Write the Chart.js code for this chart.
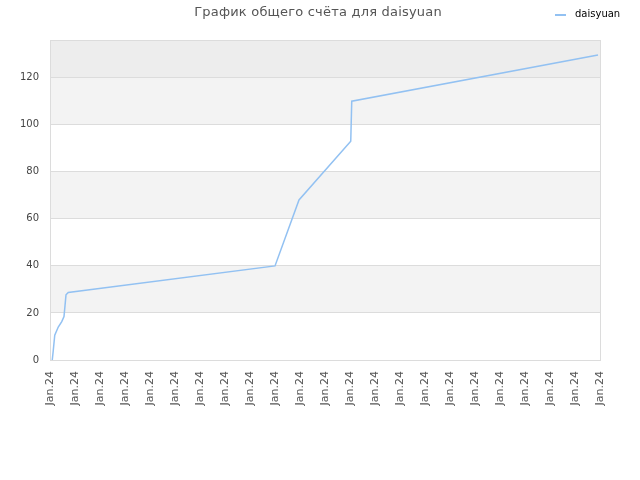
<!DOCTYPE html>
<html>
<head>
<meta charset="utf-8">
<script src="https://cdn.jsdelivr.net/npm/chart.js@4"></script>
<style>
    body { margin: 0; background: #fff; }
    #wrap { width: 640px; height: 480px; }
</style>
</head>
<body>
<div id="wrap"><canvas id="chart"></canvas></div>
<script>
var titleText = 'График общего счёта для daisyuan';
var seriesName = 'daisyuan';
// x positions on the date axis (one unit = one tick) and total score
var pointX = [0.09, 0.13, 0.19, 0.33, 0.47, 0.56, 0.64, 0.73, 9.0, 9.96, 12.03, 12.07, 21.92];
var pointY = [0, 4, 10.5, 14, 16.3, 18.5, 27.7, 28.7, 40, 68, 93, 110, 129.6];
var tickLabels = ['Jan.24', 'Jan.24', 'Jan.24', 'Jan.24', 'Jan.24', 'Jan.24', 'Jan.24', 'Jan.24',
    'Jan.24', 'Jan.24', 'Jan.24', 'Jan.24', 'Jan.24', 'Jan.24', 'Jan.24', 'Jan.24', 'Jan.24',
    'Jan.24', 'Jan.24', 'Jan.24', 'Jan.24', 'Jan.24', 'Jan.24'];

var lineColor = '#92c1f2';

var points = pointX.map(function (x, i) {
    return { x: x, y: pointY[i] };
});

// alternating horizontal bands + title + legend
var decor = {
    id: 'decor',
    beforeDraw: function (chart) {
        var ctx = chart.ctx;
        var area = chart.chartArea;
        var y = chart.scales.y;
        ctx.save();
        for (var v = 0; v < 136; v += 20) {
            var top = y.getPixelForValue(Math.min(v + 20, y.max));
            var bottom = y.getPixelForValue(v);
            var band = (v / 20) % 2;
            if (v >= 120) ctx.fillStyle = '#ededed';
            else ctx.fillStyle = band ? '#f3f3f3' : '#ffffff';
            ctx.fillRect(area.left, top, area.right - area.left, bottom - top);
        }
        ctx.restore();
    },
    afterDraw: function (chart) {
        var ctx = chart.ctx;
        var area = chart.chartArea;
        ctx.save();
        ctx.strokeStyle = '#dcdcdc';
        ctx.lineWidth = 1;
        ctx.strokeRect(area.left + 0.5, area.top + 0.5, area.right - area.left, area.bottom - area.top);

        ctx.fillStyle = '#555';
        ctx.font = '13px "DejaVu Sans"';
        ctx.letterSpacing = '0.2px';
        ctx.textAlign = 'center';
        ctx.textBaseline = 'middle';
        ctx.fillText(titleText, 318, 13);
        ctx.letterSpacing = '0px';

        ctx.strokeStyle = lineColor;
        ctx.lineWidth = 2;
        ctx.beginPath();
        ctx.moveTo(555, 15);
        ctx.lineTo(566, 15);
        ctx.stroke();
        ctx.fillStyle = '#000';
        ctx.font = '10px "DejaVu Sans"';
        ctx.textAlign = 'left';
        ctx.fillText(seriesName, 575, 14);
        ctx.restore();
    }
};

new Chart(document.getElementById('chart'), {
    type: 'line',
    data: {
        datasets: [{
            label: seriesName,
            data: points,
            borderColor: lineColor,
            borderWidth: 1.5,
            pointRadius: 0,
            tension: 0,
            fill: false
        }]
    },
    plugins: [decor],
    options: {
        responsive: true,
        maintainAspectRatio: false,
        animation: false,
        layout: { padding: { top: 40, right: 40, left: 0, bottom: 0 } },
        plugins: {
            legend: { display: false },
            title: { display: false },
            tooltip: { enabled: false }
        },
        scales: {
            x: {
                type: 'linear',
                min: 0,
                max: tickLabels.length - 1,
                afterFit: function (scale) { scale.height = 120; },
                afterBuildTicks: function (scale) {
                    scale.ticks = tickLabels.map(function (t, i) { return { value: i }; });
                },
                grid: { display: false, drawTicks: true, tickLength: 4, color: '#dcdcdc' },
                border: { display: false },
                ticks: {
                    autoSkip: false,
                    minRotation: 90,
                    maxRotation: 90,
                    color: '#555',
                    font: { family: 'DejaVu Sans', size: 11 },
                    padding: 7,
                    callback: function (value) { return tickLabels[value]; }
                }
            },
            y: {
                min: 0,
                max: 136,
                afterFit: function (scale) { scale.width = 50; },
                afterBuildTicks: function (scale) {
                    var t = [];
                    for (var v = 0; v <= 120; v += 20) t.push({ value: v });
                    scale.ticks = t;
                },
                grid: { color: '#dcdcdc', drawTicks: false },
                border: { display: false },
                ticks: {
                    color: '#444',
                    font: { family: 'DejaVu Sans', size: 10 },
                    padding: 11
                }
            }
        }
    }
});
</script>
</body>
</html>
